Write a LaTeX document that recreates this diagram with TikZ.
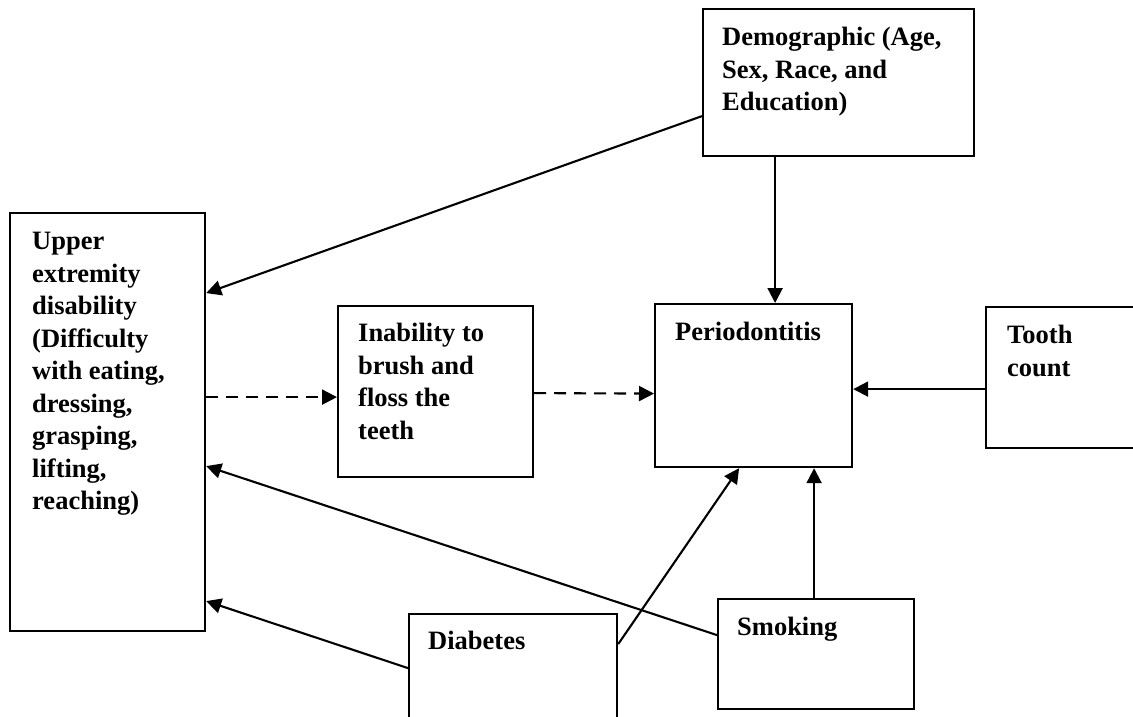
\documentclass[tikz,border=0pt]{standalone}
\usepackage{fontspec}
\setmainfont{Liberation Serif}
\usetikzlibrary{arrows.meta}
\begin{document}
\begin{tikzpicture}[x=1pt,y=-1pt,
  box/.style={draw, line width=2.2pt, inner sep=0pt, anchor=north west},
  txt/.style={anchor=north west, inner sep=0pt, align=left, font=\fontsize{26.5}{32.5}\selectfont\bfseries},
  arr/.style={line width=2.1pt, -{Triangle[length=15pt,width=15pt]}},
  darr/.style={arr, dash pattern=on 12pt off 8pt}]
\useasboundingbox (0,0) rectangle (1133,717);
% boxes
\node[box, minimum width=271pt, minimum height=147pt] (demo) at (702,8) {};
\node[box, minimum width=195pt, minimum height=418pt] (upper) at (9,212) {};
\node[box, minimum width=195pt, minimum height=171pt] (inab) at (337,305) {};
\node[box, minimum width=197pt, minimum height=163pt] (perio) at (654,303) {};
\node[box, minimum width=153pt, minimum height=141pt] (tooth) at (985,306) {};
\node[box, minimum width=196pt, minimum height=110pt] (smoke) at (717,598) {};
\node[box, minimum width=208pt, minimum height=112pt] (diab) at (408,613) {};
% texts
\node[txt] (demoT) at ([xshift=20pt,yshift=-19pt]demo.north west) {Demographic (Age,\\Sex, Race, and\\Education)};
\node[txt] (upperT) at ([xshift=23pt,yshift=-20pt]upper.north west) {Upper\\extremity\\disability\\(Difficulty\\with eating,\\dressing,\\grasping,\\lifting,\\reaching)};
\node[txt] (inabT) at ([xshift=21pt,yshift=-18pt]inab.north west) {Inability to\\brush and\\floss the\\teeth};
\node[txt] (perioT) at ([xshift=21pt,yshift=-19pt]perio.north west) {Periodontitis};
\node[txt] (toothT) at ([xshift=22pt,yshift=-19pt]tooth.north west) {Tooth\\count};
\node[txt] (smokeT) at ([xshift=20pt,yshift=-19pt]smoke.north west) {Smoking};
\node[txt] (diabT) at ([xshift=20pt,yshift=-18pt]diab.north west) {Diabetes};
% connectors
\draw[arr] ([yshift=-33.5pt]demo.west) -- ([yshift=129pt]upper.east);
\draw[arr] ([xshift=-63.5pt]demo.south) -- ([xshift=21.5pt]perio.north);
\draw[darr] ([yshift=25pt]upper.east) -- ([yshift=-5.5pt]inab.west);
\draw[darr] ([yshift=-1.5pt]inab.east) -- ([yshift=-8pt]perio.west);
\draw[arr] ([yshift=-11.5pt]tooth.west) -- ([yshift=-3.5pt]perio.east);
\draw[arr] ([yshift=19pt]smoke.west) -- ([yshift=-44pt]upper.east);
\draw[arr] ([yshift=2pt]diab.west) -- ([yshift=-179pt]upper.east);
\draw[arr] ([yshift=26pt]diab.east) -- ([xshift=-14.5pt]perio.south);
\draw[arr] ([xshift=-2pt]smoke.north) -- ([xshift=60.5pt]perio.south);
\end{tikzpicture}
\end{document}
